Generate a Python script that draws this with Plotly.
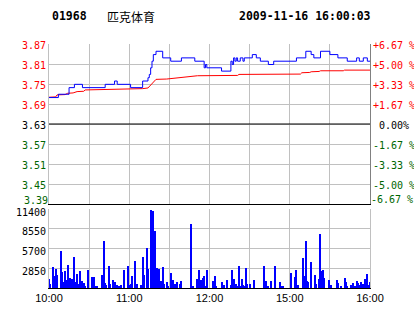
import plotly.graph_objects as go

# ---------------- data ----------------
stock_code = "01968"
stock_name = "匹克体育"
timestamp = "2009-11-16 16:00:03"
prev_close = 3.63

# minutes since 10:00 (trading minutes, lunch break removed)
price_minutes = [0, 7, 15, 19, 25, 42, 49, 51, 61, 70, 74, 75, 76, 77, 78, 80, 85, 91, 99, 109,
                 116, 117, 118, 129, 136, 137, 138, 139, 140, 141, 143, 145, 146, 152, 155, 158,
                 164, 168, 185, 192, 196, 198, 203, 210, 216, 223, 230, 232, 235, 238, 240]
price_values = [3.71, 3.72, 3.74, 3.75, 3.74, 3.75, 3.76, 3.75, 3.74, 3.76, 3.77, 3.78, 3.80, 3.82, 3.84, 3.85, 3.83, 3.82, 3.83, 3.82,
                3.80, 3.81, 3.80, 3.79, 3.82, 3.81, 3.83, 3.82, 3.83, 3.82, 3.83, 3.82, 3.83, 3.84, 3.83, 3.82,
                3.81, 3.82, 3.83, 3.85, 3.84, 3.83, 3.85, 3.84, 3.83, 3.82, 3.83, 3.82, 3.83, 3.82, 3.82]

avg_minutes = [0, 5, 6, 12, 14, 18, 21, 26, 27, 60, 70, 74, 76, 78, 80, 88, 96, 102, 111, 141,
               142, 188, 189, 195, 196, 202, 203, 220, 221, 240]
avg_values = [3.711, 3.712, 3.718, 3.719, 3.723, 3.724, 3.728, 3.729, 3.733, 3.735, 3.737, 3.739,
              3.748, 3.758, 3.765, 3.766, 3.769, 3.773, 3.776, 3.777, 3.780, 3.781, 3.785, 3.786,
              3.788, 3.789, 3.791, 3.791, 3.793, 3.793]

vol_minutes = [0, 1, 3, 4, 5, 6, 9, 10, 11, 12, 13, 14, 15, 16, 17, 18, 19, 20, 21, 22, 23, 24, 25, 26, 27, 29,
               32, 34, 35, 36, 40, 41, 42, 43, 45, 46, 48, 49, 50, 51, 52, 54, 56, 59, 60, 61, 62, 64, 66, 69,
               70, 71, 73, 74, 76, 78, 79, 81, 82, 83, 84, 85, 86, 88, 89, 91, 92, 93, 94, 96, 98, 99,
               106, 107, 108, 111, 112, 114, 115, 116, 117, 118, 123, 124, 125, 129, 130, 131, 133, 136,
               137, 138, 140, 141, 142, 143, 144, 145, 146, 147, 148, 150, 153, 161, 162, 164, 166, 169,
               173, 174, 175, 181, 184, 185, 186, 190, 191, 192, 193, 194, 196, 199, 200, 202, 203, 204,
               205, 206, 209, 211, 215, 216, 218, 221, 222, 223, 226, 227, 228, 229, 230, 231, 232, 233,
               234, 235, 236, 237, 238, 239, 240]
vol_values = [1340, 620, 2970, 1680, 2780, 1920, 5380, 2250, 810, 2500, 1200, 3360, 1300, 1440, 1340, 620, 4470, 870, 2060, 620, 2400, 720, 1050, 720, 330, 2640,
              1530, 1530, 330, 330, 1820, 6830, 720, 480, 3220, 580, 1200, 870, 480, 480, 330, 380, 2640, 3220, 480, 620, 1680, 3840, 620, 480,
              4420, 1820, 5770, 2780, 11300, 11100, 8200, 2880, 2740, 810, 960, 2970, 580, 870, 330, 2160, 1100, 1200, 620, 870, 620, 960,
              9300, 330, 240, 1300, 2640, 1100, 1440, 1680, 330, 2640, 960, 1780, 330, 870, 480, 480, 1200, 480,
              2640, 1300, 620, 330, 3220, 330, 1300, 480, 330, 2880, 620, 620, 1200, 3220, 960, 330, 960, 3120,
              810, 330, 330, 2110, 1630, 2640, 480, 4330, 1780, 6830, 960, 810, 3700, 1920, 620, 1300, 7840, 2500,
              2640, 1440, 1200, 480, 1200, 720, 330, 1440, 810, 330, 480, 720, 330, 330, 960, 720, 480, 810,
              480, 620, 1300, 480, 2020, 480, 870]

pct_steps = [-4, -3, -2, -1, 0, 1, 2, 3, 4]          # steps of 1/60 (=1.67 %) from prev close
price_tick_labels = ["3.39", "3.45", "3.51", "3.57", "3.63", "3.69", "3.75", "3.81", "3.87"]
pct_tick_labels = ["-6.67\u00a0%", "-5.00\u00a0%", "-3.33\u00a0%", "-1.67\u00a0%", "\u00a00.00%",
                   "+1.67\u00a0%", "+3.33\u00a0%", "+5.00\u00a0%", "+6.67\u00a0%"]
vol_ticks = [2850, 5700, 8550, 11400]
vol_tick_labels = ["2850", "5700", "8550", "11400"]
time_tickvals = [0, 30, 60, 90, 120, 150, 180, 210, 240]
time_ticktext = ["10:00", "", "11:00", "", "12:00", "", "15:00", "", "16:00"]

# ---------------- styling ----------------
RED = "#ff0000"
GREEN = "#006600"
BLUE = "#0000ff"
GRID = "#c0c0c0"
MONO = "DejaVu Sans Mono"

def colored(label, v):
    c = RED if v > 0 else (GREEN if v < 0 else "#000000")
    return f'<span style="color:{c}">{label}</span>'

step_pct = 100.0 / 60.0
price_tickvals = [prev_close * (1 + k / 60.0) for k in pct_steps]
pct_tickvals = [k * step_pct for k in pct_steps]
eps = 1e-6
price_range = [prev_close * (1 - 4 / 60.0) - eps, prev_close * (1 + 4 / 60.0) + eps]
pct_range = [-4 * step_pct - eps * 30, 4 * step_pct + eps * 30]

fig = go.Figure()

fig.add_trace(go.Scatter(x=avg_minutes, y=avg_values, mode="lines",
                         line=dict(color=RED, width=1), xaxis="x", yaxis="y", hoverinfo="skip"))
fig.add_trace(go.Scatter(x=price_minutes, y=price_values, mode="lines",
                         line=dict(color=BLUE, width=1, shape="hv"), xaxis="x", yaxis="y", hoverinfo="skip"))
pct_values = [(p / prev_close - 1) * 100 for p in price_values]
fig.add_trace(go.Scatter(x=price_minutes, y=pct_values, mode="lines",
                         line=dict(color="rgba(0,0,0,0)", width=0), xaxis="x", yaxis="y3", hoverinfo="skip"))
fig.add_trace(go.Scatter(x=price_minutes, y=price_values, mode="lines",
                         line=dict(color="rgba(0,0,0,0)", width=0), xaxis="x", yaxis="y4", hoverinfo="skip"))
fig.add_trace(go.Scatter(x=price_minutes, y=pct_values, mode="lines",
                         line=dict(color="rgba(0,0,0,0)", width=0), xaxis="x", yaxis="y5", hoverinfo="skip"))
fig.add_trace(go.Bar(x=vol_minutes, y=vol_values, width=0.8, marker=dict(color=BLUE, line=dict(width=0)),
                     xaxis="x2", yaxis="y2", hoverinfo="skip"))

fig.add_shape(type="line", xref="x domain", yref="y", x0=0, x1=1, y0=prev_close, y1=prev_close,
              line=dict(color="#000000", width=1))

L, R, T, B = 49, 44, 44, 26
H = 314 - T - B
price_dom = [1 - 160 / H, 1]
vol_dom = [0, 1 - 165 / H]

upper_ticks = [(v, colored(l, s)) for v, l, s in zip(price_tickvals, price_tick_labels, pct_steps) if s > -4]
bottom_tick = [(v, colored(l, s)) for v, l, s in zip(price_tickvals, price_tick_labels, pct_steps) if s == -4]
upper_pct = [(v, colored(l, s)) for v, l, s in zip(pct_tickvals, pct_tick_labels, pct_steps) if s > -4]
bottom_pct = [(v, colored(l, s)) for v, l, s in zip(pct_tickvals, pct_tick_labels, pct_steps) if s == -4]

fig.update_layout(
    width=414, height=314,
    margin=dict(l=L, r=R, t=T, b=B, pad=0, autoexpand=False),
    paper_bgcolor="white", plot_bgcolor="white",
    showlegend=False, bargap=0,
    xaxis=dict(domain=[0, 1], range=[0, 240], anchor="y", tickvals=time_tickvals, showticklabels=False,
               showgrid=True, gridcolor=GRID, gridwidth=1, showline=True, linecolor="#000000", linewidth=1,
               zeroline=False, ticks="", automargin=False),
    yaxis=dict(domain=price_dom, range=price_range, anchor="x",
               tickvals=[v for v, _ in upper_ticks], ticktext=[t for _, t in upper_ticks],
               tickfont=dict(family=MONO, size=10), showgrid=True, gridcolor=GRID, gridwidth=1,
               showline=True, linecolor=GRID, zeroline=False, ticks="", automargin=False,
               ticklabelshift=1),
    yaxis4=dict(overlaying="y", side="left", anchor="x", range=price_range,
                tickvals=[v for v, _ in bottom_tick], ticktext=[t for _, t in bottom_tick],
                tickfont=dict(family=MONO, size=10), showgrid=False, showline=False,
                zeroline=False, ticks="", automargin=False, ticklabelshift=-4),
    yaxis3=dict(overlaying="y", side="right", anchor="x", range=pct_range,
                tickvals=[v for v, _ in upper_pct], ticktext=[t for _, t in upper_pct],
                tickfont=dict(family=MONO, size=10), showgrid=False, showline=True, linecolor="#808080",
                zeroline=False, ticks="", automargin=False, ticklabelshift=1),
    yaxis5=dict(overlaying="y", side="right", anchor="x", range=pct_range,
                tickvals=[v for v, _ in bottom_pct], ticktext=[t for _, t in bottom_pct],
                tickfont=dict(family=MONO, size=10), showgrid=False, showline=False,
                zeroline=False, ticks="", automargin=False, ticklabelshift=-5),
    xaxis2=dict(domain=[0, 1], range=[0, 240], anchor="y2", tickvals=time_tickvals, ticktext=time_ticktext,
                tickfont=dict(family="Liberation Sans", size=11, color="#000000"), showgrid=True,
                gridcolor=GRID, gridwidth=1, showline=True, linecolor="#000000", linewidth=1,
                zeroline=False, ticks="", automargin=False),
    yaxis2=dict(domain=vol_dom, range=[0, 11400], anchor="x2", tickvals=vol_ticks, ticktext=vol_tick_labels,
                tickfont=dict(family=MONO, size=10, color="#000000"), showgrid=True, gridcolor=GRID,
                gridwidth=1, showline=True, linecolor=GRID, mirror=True, zeroline=False, ticks="",
                automargin=False, ticklabelshift=3),
)

def px_x(px):
    return (px - L) / (414 - L - R)

def px_y(py):
    return 1 + (T - py) / H

fig.add_annotation(text=f"<b>{stock_code}</b>", xref="paper", yref="paper", x=px_x(50), y=px_y(16),
                   xanchor="left", yanchor="middle", showarrow=False,
                   font=dict(family=MONO, size=11.5, color="#000000"))
fig.add_annotation(text=stock_name, xref="paper", yref="paper", x=px_x(105), y=px_y(16),
                   xanchor="left", yanchor="middle", showarrow=False,
                   font=dict(family="Noto Sans CJK SC", size=12, color="#000000"))
fig.add_annotation(text=f"<b>{timestamp}</b>", xref="paper", yref="paper", x=px_x(237), y=px_y(16),
                   xanchor="left", yanchor="middle", showarrow=False,
                   font=dict(family=MONO, size=11.5, color="#000000"))

fig.write_html("out.html")
